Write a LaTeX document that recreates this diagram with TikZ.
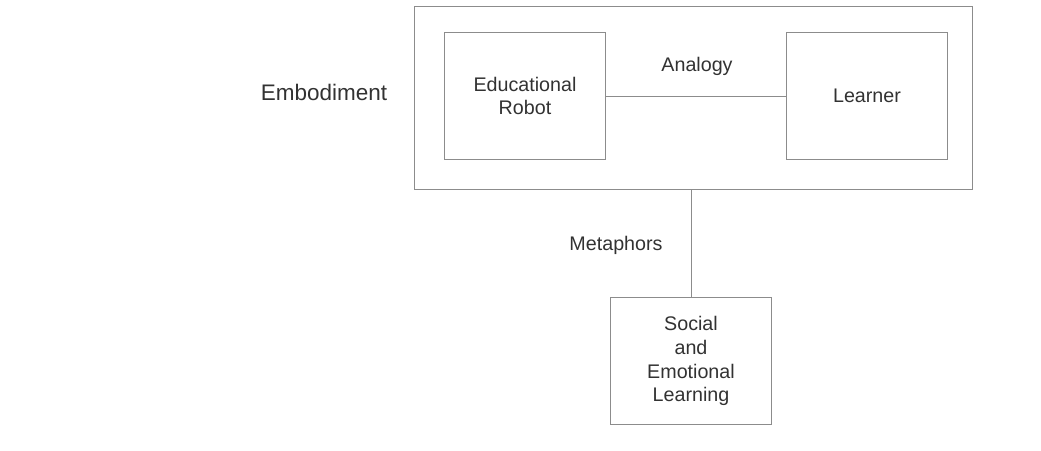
\documentclass[tikz,border=0pt]{standalone}
\usepackage{fontspec}
\setmainfont{Liberation Sans}
\usetikzlibrary{positioning, calc}
\definecolor{linegray}{RGB}{140,140,140}
\definecolor{textgray}{RGB}{50,50,50}
\tikzset{
  box/.style = {draw = linegray, line width = 0.7pt, minimum width = 4cm, minimum height = 3.15cm, align = center, font = \fontsize{14}{17}\selectfont, text = textgray},
  lbl/.style = {font = \fontsize{14}{17}\selectfont, text = textgray},
  link/.style = {draw = linegray, line width = 0.7pt}
}

\begin{document}
\begin{tikzpicture}[x = 0.025cm, y = -0.025cm]
                \useasboundingbox (0,0) rectangle (1041,450);
                \node[draw = linegray, line width = 0.7pt, minimum width = 13.925cm, minimum height = 4.55cm] (outer) at (693.5,98) {};
                \node[box] (robot) at (525,96) {Educational\\Robot};
                \node[box] (learner) at (867,96) {Learner};
                \node[box] (sel) at (691,361) {Social\\and\\Emotional\\Learning};
                \node[lbl, font = \fontsize{16}{19}\selectfont] (embodiment) at (324,92) {Embodiment};
                \node[lbl] (analogy) at (697,66) {Analogy};
                \node[lbl] (metaphors) at (616,245) {Metaphors};
                \draw[link] (robot.east) -- (learner.west);
                \draw[link] (sel.north) -- (sel.north |- outer.south);
            \end{tikzpicture}
\end{document}
